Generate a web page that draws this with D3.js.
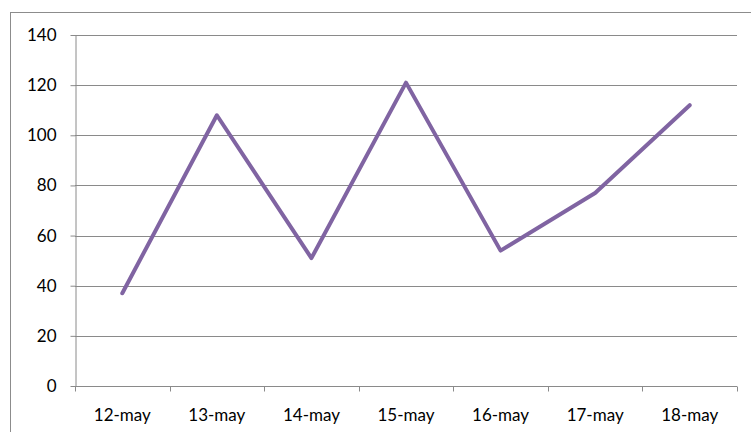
<!DOCTYPE html>
<html><head><meta charset="utf-8">
<script src="https://cdn.jsdelivr.net/npm/d3@7"></script>
<style>body{margin:0;background:#fff}svg{display:block}</style>
</head><body>
<script>
const categories = ["12-may","13-may","14-may","15-may","16-may","17-may","18-may"];
const values = [37,108,51,121,54,77,112];
const yTicks = [0,20,40,60,80,100,120,140];

(function(){
const W=751,H=432;
const svg=d3.select("body").append("svg").attr("width",W).attr("height",H);
svg.append("rect").attr("x",10.5).attr("y",12.5).attr("width",W).attr("height",H)
  .attr("fill","#fff").attr("stroke","#8c8c8c").attr("stroke-width",1);

const mL=75,mR=737,mT=35,mB=386;
const x=d3.scaleBand().domain(categories).range([mL,mR]).paddingInner(0).paddingOuter(0);
const y=d3.scaleLinear().domain([0,140]).range([mB,mT]);
const font="Lato, 'Open Sans', sans-serif";
const fs=17;

svg.append("g").selectAll("line").data(yTicks.filter(d=>d>0)).join("line")
  .attr("x1",mL).attr("x2",mR).attr("y1",d=>Math.round(y(d))+0.5).attr("y2",d=>Math.round(y(d))+0.5)
  .attr("stroke","#8a8a8a").attr("stroke-width",1);

const ya=svg.append("g").attr("transform",`translate(${mL+0.5},0)`)
  .call(d3.axisLeft(y).tickValues(yTicks).tickSize(5).tickPadding(6).tickSizeOuter(0));
ya.select(".domain").attr("stroke","#8a8a8a");
ya.selectAll(".tick line").attr("stroke","#8a8a8a");
ya.selectAll(".tick text").attr("font-family",font).attr("font-size",fs).attr("fill","#000").attr("dx",-8);

const xa=svg.append("g").attr("transform",`translate(0,${mB+0.5})`);
xa.append("line").attr("x1",mL).attr("x2",mR).attr("stroke","#8a8a8a");
const bounds=categories.map(c=>x(c)).concat([mR]);
xa.selectAll("line.t").data(bounds).join("line").attr("class","t")
  .attr("x1",d=>Math.round(d)+0.5).attr("x2",d=>Math.round(d)+0.5).attr("y1",0).attr("y2",5).attr("stroke","#8a8a8a");
xa.selectAll("text").data(categories).join("text")
  .attr("x",d=>x(d)+x.bandwidth()/2).attr("y",34).attr("text-anchor","middle")
  .attr("font-family",font).attr("font-size",fs).attr("fill","#000").text(d=>d);

const line=d3.line().x((d,i)=>x(categories[i])+x.bandwidth()/2).y(d=>y(d));
svg.append("path").datum(values).attr("d",line).attr("fill","none")
  .attr("stroke","#8064A2").attr("stroke-width",4).attr("stroke-linejoin","round").attr("stroke-linecap","round");
})();
</script>
</body></html>
